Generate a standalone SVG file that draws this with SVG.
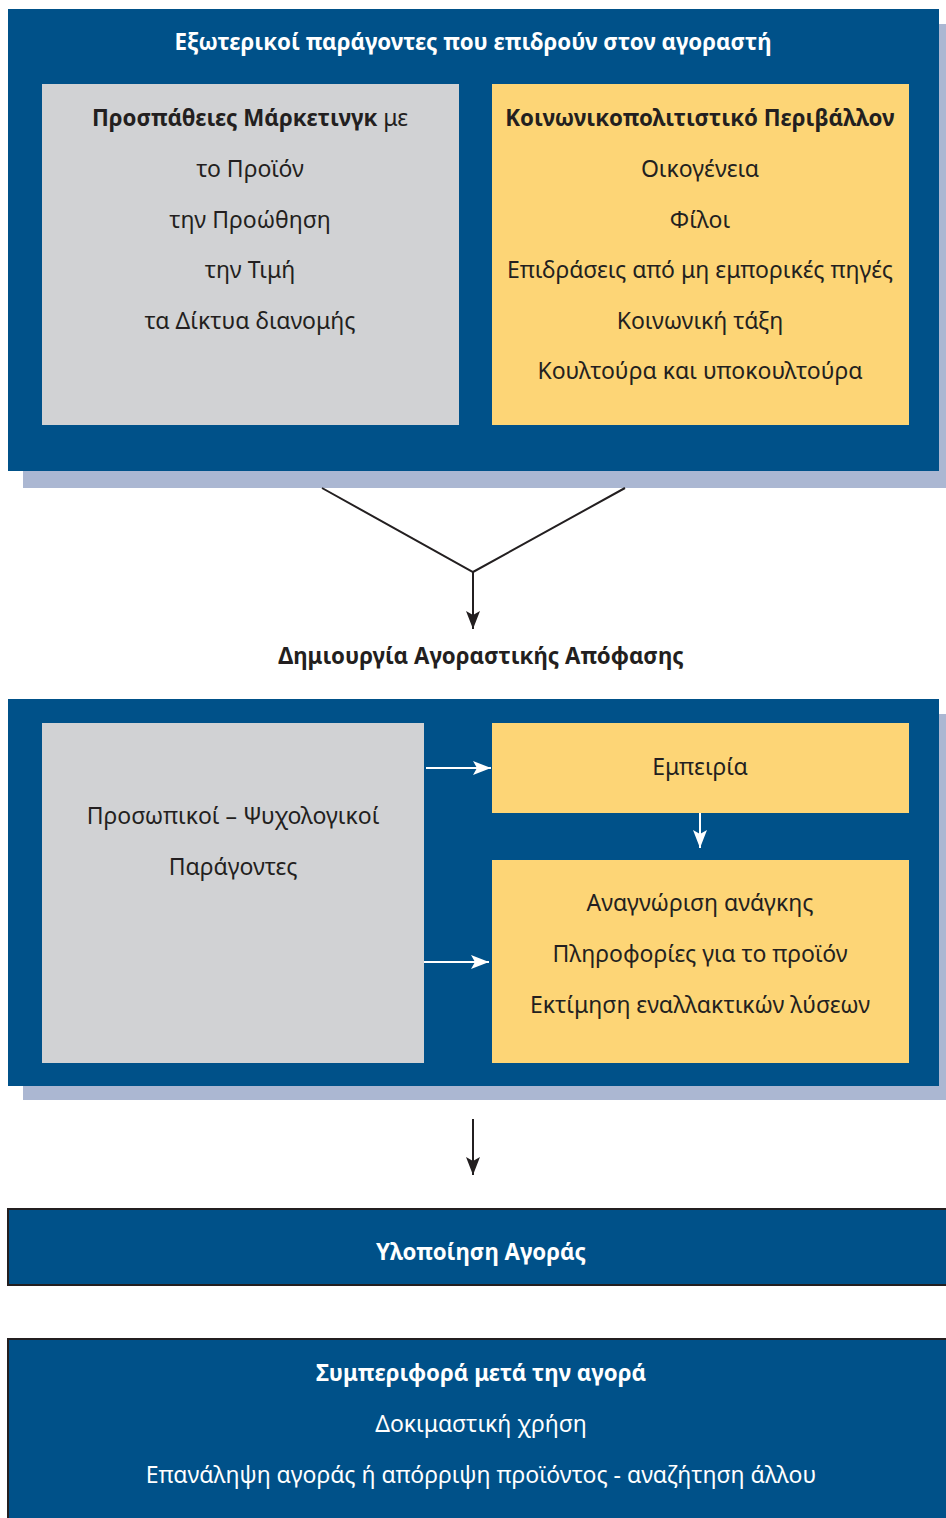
<svg xmlns="http://www.w3.org/2000/svg" width="946" height="1518" viewBox="0 0 946 1518">
<style>
text{font-family:"Noto Sans","Open Sans","DejaVu Sans",sans-serif;font-size:23px;text-anchor:middle}
.w{fill:#ffffff}
.d{fill:#231f20}
.b{font-weight:bold;font-size:22.3px}
.blue{fill:#005189}
.shadow{fill:#abb7d2}
.gray{fill:#d1d2d4}
.yel{fill:#fdd576}
.ln{stroke:#231f20;stroke-width:2;fill:none}
.wl{stroke:#ffffff;stroke-width:2;fill:none}
</style>
<defs>
<marker id="ab" viewBox="0 0 18 14" refX="18" refY="7" markerWidth="18" markerHeight="14" markerUnits="userSpaceOnUse" orient="auto">
<path d="M0,0 L18,7 L0,14 L4,7 Z" fill="#231f20"/>
</marker>
<marker id="aw" viewBox="0 0 18 14" refX="18" refY="7" markerWidth="18" markerHeight="14" markerUnits="userSpaceOnUse" orient="auto">
<path d="M0,0 L18,7 L0,14 L4,7 Z" fill="#ffffff"/>
</marker>
</defs>
<rect width="946" height="1518" fill="#ffffff"/>

<g id="external">
<rect class="shadow" x="23" y="24" width="923" height="464"/>
<rect class="blue" x="8" y="9" width="931" height="462"/>
<text class="w b" x="473" y="50">Εξωτερικοί παράγοντες που επιδρούν στον αγοραστή</text>
</g>
<g id="marketing">
<rect class="gray" x="42" y="84" width="417" height="341"/>
<text class="d" x="250" y="126"><tspan class="b">Προσπάθειες Μάρκετινγκ</tspan> με</text>
<text class="d" x="250" y="177">το Προϊόν</text>
<text class="d" x="250" y="228">την Προώθηση</text>
<text class="d" x="250" y="278">την Τιμή</text>
<text class="d" x="250" y="329">τα Δίκτυα διανομής</text>
</g>
<g id="sociocultural">
<rect class="yel" x="492" y="84" width="417" height="341"/>
<text class="d b" x="700" y="126">Κοινωνικοπολιτιστικό Περιβάλλον</text>
<text class="d" x="700" y="177">Οικογένεια</text>
<text class="d" x="700" y="228">Φίλοι</text>
<text class="d" x="700" y="278">Επιδράσεις από μη εμπορικές πηγές</text>
<text class="d" x="700" y="329">Κοινωνική τάξη</text>
<text class="d" x="700" y="379">Κουλτούρα και υποκουλτούρα</text>
</g>

<g id="decision-label">
<text class="d b" x="481" y="664">Δημιουργία Αγοραστικής Απόφασης</text>
</g>

<g id="decision">
<rect class="shadow" x="23" y="714" width="923" height="386"/>
<rect class="blue" x="8" y="699" width="931" height="387"/>
</g>
<g id="personal">
<rect class="gray" x="42" y="723" width="382" height="340"/>
<text class="d" x="233" y="824">Προσωπικοί – Ψυχολογικοί</text>
<text class="d" x="233" y="875">Παράγοντες</text>
</g>
<g id="experience">
<rect class="yel" x="492" y="723" width="417" height="90"/>
<text class="d" x="700" y="775">Εμπειρία</text>
</g>
<g id="process">
<rect class="yel" x="492" y="860" width="417" height="203"/>
<text class="d" x="700" y="911">Αναγνώριση ανάγκης</text>
<text class="d" x="700" y="962">Πληροφορίες για το προϊόν</text>
<text class="d" x="700" y="1013">Εκτίμηση εναλλακτικών λύσεων</text>
</g>

<g id="purchase">
<rect class="blue" x="8" y="1209" width="945" height="76" stroke="#231f20" stroke-width="2"/>
<text class="w b" x="481" y="1260">Υλοποίηση Αγοράς</text>
</g>

<g id="post-purchase">
<rect class="blue" x="8" y="1339" width="945" height="190" stroke="#231f20" stroke-width="2"/>
<text class="w b" x="481" y="1381">Συμπεριφορά μετά την αγορά</text>
<text class="w" x="481" y="1432">Δοκιμαστική χρήση</text>
<text class="w" x="481" y="1483">Επανάληψη αγοράς ή απόρριψη προϊόντος - αναζήτηση άλλου</text>
</g>

<g id="connectors">
<polyline class="ln" points="322,488 473,572 625,488"/>
<line class="ln" x1="473" y1="572" x2="473" y2="629" marker-end="url(#ab)"/>
<line class="wl" x1="426" y1="768" x2="491" y2="768" marker-end="url(#aw)"/>
<line class="wl" x1="424" y1="962" x2="489" y2="962" marker-end="url(#aw)"/>
<line class="wl" x1="700" y1="813" x2="700" y2="848" marker-end="url(#aw)"/>
<line class="ln" x1="473" y1="1119" x2="473" y2="1175" marker-end="url(#ab)"/>
</g>
</svg>
